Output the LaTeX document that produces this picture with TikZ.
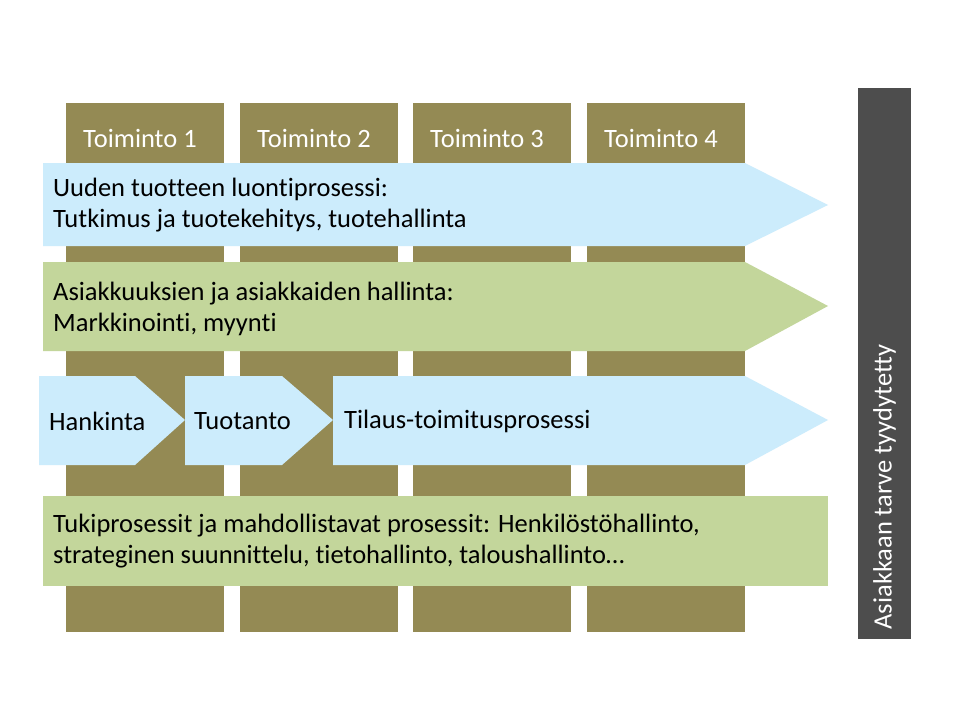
\documentclass[tikz,border=0pt]{standalone}
\usepackage{fontspec}
\setmainfont{Carlito}[Ligatures={NoCommon}]
\definecolor{olive}{HTML}{948A54}
\definecolor{lblue}{HTML}{CCECFC}
\definecolor{lgreen}{HTML}{C3D69B}
\definecolor{dgray}{HTML}{4D4D4D}
\begin{document}
\begin{tikzpicture}[x=1pt,y=-1pt,
  lab/.style={font=\fontsize{26.5}{31}\selectfont,anchor=west,align=left,inner sep=0pt},
  tlab/.style={font=\fontsize{26.5}{31}\selectfont,text=white,inner sep=0pt}]
\useasboundingbox (0,0) rectangle (960,720);
\fill[white] (0,0) rectangle (960,720);
\foreach \x/\n in {66/1,240/2,413/3,587/4}{
  \fill[olive] (\x,103) rectangle (\x+158,632);
  \node[tlab] (t\n) at (\x+74,138) {Toiminto \n};
}
\fill[dgray] (858,88) rectangle (911,639);
\node[tlab,rotate=90] (need) at (884.5,487) {Asiakkaan tarve tyydytetty};
% arrow 1
\fill[lblue] (43,163) -- (745,163) -- (828,205) -- (745,246) -- (43,246) -- cycle;
\node[lab] (a1) at (53,205) {Uuden tuotteen luontiprosessi:\\Tutkimus ja tuotekehitys, tuotehallinta};
% arrow 2
\fill[lgreen] (43,262) -- (745,262) -- (828,306) -- (745,351) -- (43,351) -- cycle;
\node[lab] (a2) at (53,309) {Asiakkuuksien ja asiakkaiden hallinta:\\Markkinointi, myynti};
% row 3
\fill[lblue] (39,376) -- (135,376) -- (185,420) -- (135,465) -- (39,465) -- cycle;
\fill[lblue] (185,376) -- (282,376) -- (333,420) -- (282,465) -- (185,465) -- cycle;
\fill[lblue] (333,376) -- (745,376) -- (828,420) -- (745,465) -- (333,465) -- cycle;
\node[lab] (h) at (49,421) {Hankinta};
\node[lab] (tu) at (194,421) {Tuotanto};
\node[lab] (ti) at (344,421) {Tilaus-toimitusprosessi};
% row 4
\fill[lgreen] (43,496) rectangle (828,586);
\node[lab] (a4) at (53,541) {Tukiprosessit ja mahdollistavat prosessit: Henkilöstöhallinto,\\strateginen suunnittelu, tietohallinto, taloushallinto…};
\end{tikzpicture}
\end{document}
